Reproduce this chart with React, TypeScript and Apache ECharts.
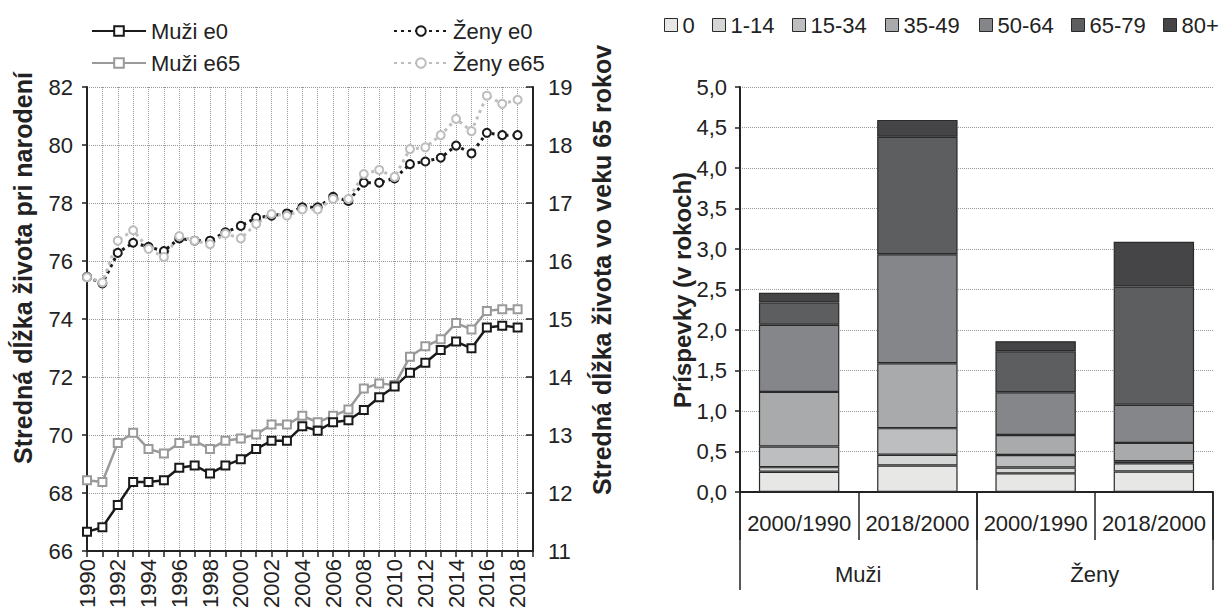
import React, { useEffect, useRef } from "react";
import * as echarts from "echarts";

const years = [1990, 1991, 1992, 1993, 1994, 1995, 1996, 1997, 1998, 1999, 2000, 2001, 2002, 2003, 2004, 2005, 2006, 2007, 2008, 2009, 2010, 2011, 2012, 2013, 2014, 2015, 2016, 2017, 2018];
const muziE0 = [66.66, 66.82, 67.59, 68.38, 68.38, 68.44, 68.87, 68.95, 68.67, 68.95, 69.16, 69.52, 69.8, 69.8, 70.3, 70.15, 70.44, 70.51, 70.86, 71.3, 71.67, 72.15, 72.49, 72.93, 73.22, 72.99, 73.71, 73.77, 73.71];
const muziE65 = [12.22, 12.19, 12.86, 13.04, 12.76, 12.68, 12.86, 12.9, 12.76, 12.9, 12.94, 13.01, 13.18, 13.18, 13.33, 13.22, 13.33, 13.44, 13.8, 13.89, 13.86, 14.35, 14.53, 14.65, 14.93, 14.82, 15.14, 15.17, 15.17];
const zenyE0 = [75.45, 75.23, 76.28, 76.63, 76.49, 76.34, 76.78, 76.7, 76.7, 76.99, 77.21, 77.49, 77.56, 77.64, 77.85, 77.85, 78.21, 78.07, 78.7, 78.7, 78.85, 79.34, 79.43, 79.56, 79.98, 79.71, 80.42, 80.34, 80.34];
const zenyE65 = [15.72, 15.63, 16.35, 16.53, 16.21, 16.07, 16.43, 16.35, 16.29, 16.47, 16.39, 16.64, 16.81, 16.78, 16.89, 16.89, 17.07, 17.07, 17.5, 17.57, 17.45, 17.93, 17.96, 18.17, 18.45, 18.24, 18.85, 18.71, 18.78];

const barCategories = ["2000/1990", "2018/2000", "2000/1990", "2018/2000"];
const groupCategories = ["Muži", "Ženy"];
const ageGroups = ["0", "1-14", "15-34", "35-49", "50-64", "65-79", "80+"];
const age0 = [0.25, 0.327, 0.23, 0.254];
const age1_14 = [0.057, 0.133, 0.073, 0.101];
const age15_34 = [0.254, 0.328, 0.153, 0.025];
const age35_49 = [0.675, 0.802, 0.247, 0.226];
const age50_64 = [0.828, 1.345, 0.529, 0.472];
const age65_79 = [0.275, 1.45, 0.505, 1.459];
const age80 = [0.121, 0.209, 0.125, 0.553];
const ageValues = [age0, age1_14, age15_34, age35_49, age50_64, age65_79, age80];
const ageColors = ["#e7e8e6", "#d5d6d6", "#bdbebf", "#a9aaab", "#858689", "#5d5e60", "#454547"];

const FONT = "'Liberation Sans', Arial, sans-serif";
const TXT = "#222";
const FS = 22;
const AGE_LEGEND_LEFT = [659, 707, 787, 880, 974, 1066, 1158];

export default function App() {
  const ref = useRef<HTMLDivElement>(null);
  useEffect(() => {
    if (!ref.current) return;
    document.body.style.margin = "0";
    const chart = echarts.init(ref.current, null, { renderer: "svg" });
    const pair = (arr: number[]) => years.map((y, i) => [y, arr[i]]);
    const lineSeries = (name: string, data: number[], yIdx: number, color: string, dotted: boolean, symbol: string) => ({
      name,
      type: "line",
      xAxisIndex: 0,
      yAxisIndex: yIdx,
      data: pair(data),
      symbol,
      symbolSize: 8,
      showSymbol: true,
      lineStyle: { color, width: dotted ? 3 : 2.5, type: dotted ? [3, 4] : "solid" },
      itemStyle: { color: "#fff", borderColor: color, borderWidth: 2 },
      emphasis: { disabled: true },
    });
    const legendText = { fontSize: FS, color: TXT, fontFamily: FONT };
    const option: any = {
      animation: false,
      textStyle: { fontFamily: FONT, color: TXT },
      grid: [
        { left: 87, right: 689, top: 87, bottom: 63 },
        { left: 740, right: 9, top: 87, bottom: 122 },
      ],
      legend: [
        {
          data: ["Muži e0", "Muži e65"],
          orient: "vertical",
          left: 86,
          top: 15,
          itemWidth: 54,
          itemHeight: 12,
          itemGap: 10,
          textStyle: legendText,
        },
        {
          data: ["Ženy e0", "Ženy e65"],
          orient: "vertical",
          left: 388,
          top: 15,
          itemWidth: 54,
          itemHeight: 12,
          itemGap: 10,
          textStyle: legendText,
        },
        ...ageGroups.map((g, i) => ({
          data: [g],
          orient: "horizontal",
          left: AGE_LEGEND_LEFT[i],
          top: 9,
          icon: "rect",
          itemWidth: 13,
          itemHeight: 13,
          itemGap: 0,
          itemStyle: { borderColor: "#2a2a2a", borderWidth: 1 },
          textStyle: legendText,
        })),
      ],
      xAxis: [
        {
          type: "value",
          gridIndex: 0,
          min: 1990,
          max: 2019,
          interval: 1,
          axisLine: { show: true, lineStyle: { color: "#222", width: 2 } },
          axisTick: { show: true, length: 6, lineStyle: { color: "#222", width: 1.5 } },
          axisLabel: {
            rotate: 90,
            fontSize: FS,
            color: TXT,
            margin: 8,
            formatter: (v: number) => (v % 2 === 0 && v <= 2018 ? String(v) : ""),
          },
          splitLine: { show: true, lineStyle: { color: "#999", type: "dotted", width: 1 } },
        },
        {
          type: "category",
          gridIndex: 1,
          data: barCategories,
          position: "bottom",
          axisLine: { show: true, lineStyle: { color: "#222", width: 2 } },
          axisTick: { show: true, length: 48, interval: 0, lineStyle: { color: "#222", width: 1.5 } },
          axisLabel: { fontSize: FS, color: TXT, margin: 20, interval: 0 },
          splitLine: { show: false },
        },
        {
          type: "category",
          gridIndex: 1,
          data: groupCategories,
          position: "bottom",
          axisLine: { show: false },
          axisTick: { show: true, length: 98, interval: 0, lineStyle: { color: "#222", width: 1.5 } },
          axisLabel: { fontSize: FS, color: TXT, margin: 71, interval: 0 },
          splitLine: { show: false },
        },
      ],
      yAxis: [
        {
          type: "value",
          gridIndex: 0,
          min: 66,
          max: 82,
          interval: 2,
          position: "left",
          axisLine: { show: true, lineStyle: { color: "#222", width: 2 } },
          axisTick: { show: true, length: 5, lineStyle: { color: "#222", width: 1.5 } },
          axisLabel: { fontSize: FS, color: TXT, margin: 14 },
          splitLine: { show: true, lineStyle: { color: "#999", type: "dotted", width: 1 } },
        },
        {
          type: "value",
          gridIndex: 0,
          min: 11,
          max: 19,
          interval: 1,
          position: "right",
          axisLine: { show: true, lineStyle: { color: "#222", width: 2 } },
          axisTick: { show: true, inside: true, length: 7, lineStyle: { color: "#222", width: 1.5 } },
          axisLabel: { fontSize: FS, color: TXT, margin: 15 },
          splitLine: { show: false },
        },
        {
          type: "value",
          gridIndex: 1,
          min: 0,
          max: 5,
          interval: 0.5,
          axisLine: { show: true, lineStyle: { color: "#222", width: 2 } },
          axisTick: { show: true, length: 5, lineStyle: { color: "#222", width: 1.5 } },
          axisLabel: {
            fontSize: FS,
            color: TXT,
            margin: 13,
            formatter: (v: number) => v.toFixed(1).replace(".", ","),
          },
          splitLine: { show: true, lineStyle: { color: "#999", type: "dotted", width: 1 } },
        },
      ],
      graphic: [
        {
          type: "text",
          x: 23,
          y: 268,
          rotation: Math.PI / 2,
          style: {
            text: "Stredná dĺžka života pri narodení",
            fontSize: 25,
            fontWeight: "bold",
            fontFamily: FONT,
            fill: TXT,
            textAlign: "center",
            textVerticalAlign: "middle",
          },
        },
        {
          type: "text",
          x: 602,
          y: 270,
          rotation: Math.PI / 2,
          style: {
            text: "Stredná dĺžka života vo veku 65 rokov",
            fontSize: 25,
            fontWeight: "bold",
            fontFamily: FONT,
            fill: TXT,
            textAlign: "center",
            textVerticalAlign: "middle",
          },
        },
        {
          type: "text",
          x: 682,
          y: 290,
          rotation: Math.PI / 2,
          style: {
            text: "Príspevky (v rokoch)",
            fontSize: 24,
            fontWeight: "bold",
            fontFamily: FONT,
            fill: TXT,
            textAlign: "center",
            textVerticalAlign: "middle",
          },
        },
      ],
      series: [
        lineSeries("Muži e65", muziE65, 1, "#9a9a9a", false, "rect"),
        lineSeries("Muži e0", muziE0, 0, "#1a1a1a", false, "rect"),
        lineSeries("Ženy e0", zenyE0, 0, "#1a1a1a", true, "circle"),
        lineSeries("Ženy e65", zenyE65, 1, "#bdbdbd", true, "circle"),
        ...ageGroups.map((g, i) => ({
          name: g,
          type: "bar",
          stack: "total",
          xAxisIndex: 1,
          yAxisIndex: 2,
          data: ageValues[i],
          barCategoryGap: "32%",
          itemStyle: { color: ageColors[i], borderColor: "#2a2a2a", borderWidth: 1.2 },
          emphasis: { disabled: true },
        })),
      ],
    };
    chart.setOption(option);
    return () => chart.dispose();
  }, []);
  return <div ref={ref} style={{ position: "absolute", left: 0, top: 0, width: 1222, height: 614 }} />;
}
